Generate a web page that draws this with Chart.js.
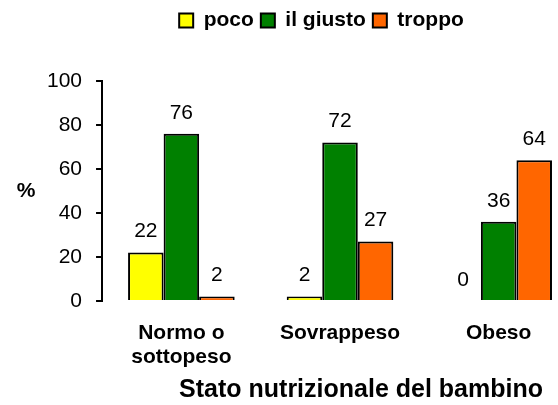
<!DOCTYPE html>
<html>
<head>
<meta charset="utf-8">
<script src="https://cdn.jsdelivr.net/npm/chart.js@4/dist/chart.umd.min.js"></script>
<style>
  html, body { margin: 0; padding: 0; background: #fff; overflow: hidden; }
  #wrap { width: 600px; height: 405px; }
</style>
</head>
<body>
<div id="wrap"><canvas id="chart" width="600" height="405"></canvas></div>
<script>
// dati
const categorie = [['Normo o', 'sottopeso'], 'Sovrappeso', 'Obeso'];
const poco = [22, 2, 0];
const giusto = [76, 72, 36];
const troppo = [2, 27, 64];
const yTicks = [0, 20, 40, 60, 80, 100];

const FONT = "'Liberation Sans', Arial, sans-serif";

// etichette sopra le barre
const valueLabels = {
    id: 'valueLabels',
    afterDatasetsDraw(chart) {
        const ctx = chart.ctx;
        ctx.save();
        ctx.font = '21px ' + FONT;
        ctx.fillStyle = '#000';
        ctx.textAlign = 'center';
        ctx.textBaseline = 'middle';
        chart.data.datasets.forEach((ds, i) => {
            chart.getDatasetMeta(i).data.forEach((bar, j) => {
                ctx.fillText(ds.data[j], bar.x, bar.y - 21);
            });
        });
        ctx.restore();
    }
};

// "%" orizzontale a sinistra dell'asse y
const yTitle = {
    id: 'yTitle',
    afterDraw(chart) {
        const a = chart.chartArea;
        const ctx = chart.ctx;
        ctx.save();
        ctx.font = 'bold 21px ' + FONT;
        ctx.fillStyle = '#000';
        ctx.textAlign = 'center';
        ctx.textBaseline = 'middle';
        ctx.fillText('%', a.left - 76, (a.top + a.bottom) / 2);
        ctx.restore();
    }
};

// spazio sotto la legenda + piccoli spostamenti orizzontali
const layoutTweaks = {
    id: 'layoutTweaks',
    beforeInit(chart) {
        const fit = chart.legend.fit;
        chart.legend.fit = function () {
            fit.call(this);
            this.height += 40;
        };
    },
    afterLayout(chart) {
        chart.legend.left += 16;
        chart.legend.right += 16;
        if (chart.titleBlock) {
            chart.titleBlock.left += 21;
            chart.titleBlock.right += 21;
        }
    }
};

new Chart(document.getElementById('chart'), {
    type: 'bar',
    data: {
        labels: categorie,
        datasets: [
            {label: 'poco', data: poco, backgroundColor: '#FFFF00', borderColor: '#000', borderWidth: 2},
            {label: 'il giusto', data: giusto, backgroundColor: '#008000', borderColor: '#000', borderWidth: 2},
            {label: 'troppo', data: troppo, backgroundColor: '#FF6600', borderColor: '#000', borderWidth: 2}
        ]
    },
    options: {
        responsive: false,
        animation: false,
        events: [],
        layout: {padding: {top: 3, left: 33, right: 22, bottom: 0}},
        datasets: {bar: {barPercentage: 1, categoryPercentage: 0.672}},
        plugins: {
            tooltip: {enabled: false},
            legend: {
                position: 'top',
                labels: {
                    boxWidth: 14, boxHeight: 14, padding: 7,
                    color: '#000',
                    font: {family: FONT, size: 21, weight: 'bold'}
                }
            },
            title: {
                display: true,
                position: 'bottom',
                fullSize: false,
                text: 'Stato nutrizionale del bambino',
                color: '#000',
                font: {family: FONT, size: 25, weight: 'bold', lineHeight: 1.2},
                padding: {top: 2, bottom: 0}
            }
        },
        scales: {
            x: {
                grid: {display: false, drawTicks: true, tickLength: 16},
                border: {display: false},
                ticks: {
                    color: '#000', padding: 4, maxRotation: 0, autoSkip: false,
                    font: {family: FONT, size: 21, weight: 'bold', lineHeight: '24px'}
                }
            },
            y: {
                min: 0, max: 100,
                afterBuildTicks(scale) { scale.ticks = yTicks.map(v => ({value: v})); },
                grid: {drawOnChartArea: false, drawTicks: true, tickLength: 6, color: '#000', lineWidth: 2},
                border: {display: true, color: '#000', width: 2},
                ticks: {color: '#000', padding: 14, font: {family: FONT, size: 21}}
            }
        }
    },
    plugins: [valueLabels, yTitle, layoutTweaks]
});
</script>
</body>
</html>
